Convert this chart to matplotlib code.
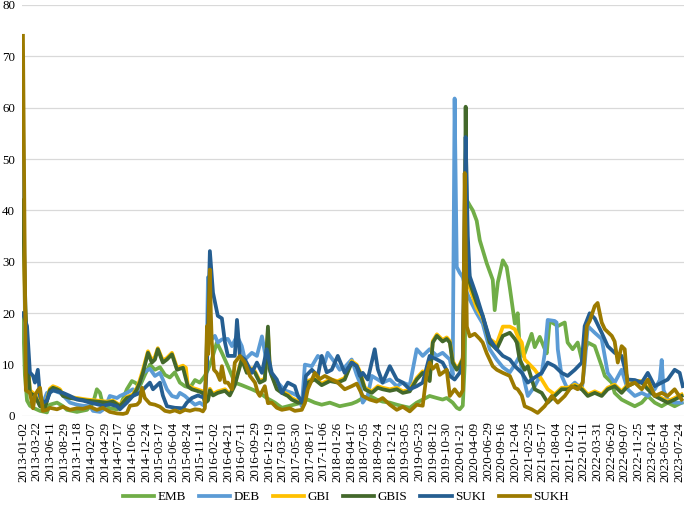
import matplotlib
matplotlib.use("Agg")
import matplotlib.pyplot as plt

plt.rcParams['font.family'] = ['Liberation Serif', 'DejaVu Serif']

# business-day index (0 = 2013-01-02) and value
emb_day = [0, 8, 17, 29, 42, 71, 100, 112, 142, 167, 183, 225, 267, 292, 308, 321, 333, 362, 392, 404,
           433, 454, 467, 487, 508, 529, 550, 571, 592, 612, 633, 654, 675, 696, 717, 737, 758, 771, 787, 808,
           829, 854, 883, 912, 954, 987, 1016, 1050, 1079, 1112, 1154, 1187, 1216, 1245, 1279, 1320, 1370, 1391, 1416, 1445,
           1474, 1499, 1529, 1558, 1583, 1612, 1641, 1666, 1695, 1725, 1749, 1766, 1791, 1808, 1820, 1833, 1841, 1850, 1862, 1875,
           1891, 1904, 1933, 1958, 1966, 1979, 2000, 2016, 2029, 2050, 2062, 2070, 2083, 2091, 2120, 2133, 2154, 2175, 2183, 2195,
           2229, 2258, 2270, 2291, 2312, 2329, 2354, 2383, 2412, 2425, 2454, 2466, 2495, 2520, 2550, 2579, 2604, 2633, 2662, 2687,
           2716, 2745]
emb_val = [20, 8, 3, 2, 1.6, 1.0, 0.7, 2.2, 2.6, 1.9, 1.2, 0.8, 1.2, 2.5, 5.2, 4.5, 2.2, 1.5, 1.3, 1.8,
           5.2, 6.8, 6.5, 5.8, 8, 10, 9, 9.5, 8, 7.5, 8.5, 6.5, 5.8, 5.5, 7, 6.5, 7.8, 9, 11, 14.3,
           12.3, 9.7, 6.5, 6, 5.2, 4.5, 3.5, 2.6, 1.6, 2, 2.5, 3.2, 2.6, 2.2, 2.6, 1.9, 2.4, 2.8, 3.5, 3.9,
           3.2, 2.8, 2.6, 2.2, 1.9, 1.6, 2.6, 3.2, 3.9, 3.5, 3.2, 3.5, 2.6, 1.6, 1.3, 2, 10, 42, 41, 40,
           38, 34.2, 29.7, 26.5, 20.6, 26, 30.3, 29, 25, 18, 20, 13.4, 11.7, 12.2, 16, 13.4, 15.4, 13, 12.2, 18.5,
           17.5, 18.2, 14.3, 13, 14.3, 11, 14.3, 13.6, 9.7, 7.8, 6.5, 4.5, 3.2, 2.6, 1.9, 2.6, 3.9, 2.6, 1.9, 2.6,
           1.9, 2.6]

deb_day = [0, 8, 17, 29, 50, 71, 83, 100, 125, 154, 167, 196, 225, 250, 279, 292, 321, 333, 350, 362,
           392, 404, 433, 458, 475, 500, 529, 550, 571, 583, 600, 621, 642, 654, 675, 696, 717, 737, 758, 767,
           771, 775, 787, 800, 812, 829, 854, 871, 892, 912, 925, 954, 975, 996, 1016, 1037, 1062, 1091, 1120, 1146,
           1162, 1175, 1204, 1229, 1258, 1270, 1300, 1320, 1341, 1370, 1391, 1404, 1416, 1437, 1454, 1479, 1499, 1529, 1558, 1583,
           1612, 1641, 1666, 1695, 1725, 1749, 1779, 1791, 1799, 1808, 1820, 1833, 1850, 1862, 1891, 1916, 1945, 1974, 2000, 2029,
           2050, 2070, 2079, 2104, 2133, 2162, 2174, 2187, 2216, 2224, 2229, 2245, 2270, 2300, 2329, 2341, 2354, 2383, 2412, 2437,
           2466, 2495, 2520, 2550, 2579, 2604, 2633, 2654, 2662, 2670, 2687, 2716, 2745]
deb_val = [59, 20, 6, 4.5, 4, 3, 2.5, 4.5, 5, 4.5, 4, 2.6, 2.2, 2, 1.9, 1.0, 0.8, 1.2, 2.5, 3.9,
           3.5, 3.9, 4.5, 5.2, 4.5, 8.4, 9.2, 7.8, 8.4, 7.1, 5.2, 3.9, 3.6, 4.5, 3.9, 3, 2.2, 2.6, 1.9, 15,
           27, 18, 15, 15.6, 14.3, 14.9, 15, 13.6, 15.6, 13.6, 11, 12.3, 11.7, 15.5, 10.4, 7.8, 6.5, 5, 4.5, 3.9,
           1.9, 10, 9.7, 11.7, 10.4, 12.3, 10.4, 9, 9.5, 11, 8, 6.5, 2.6, 4, 7.8, 7.1, 6.5, 7.1, 5.8, 6.5,
           6, 13, 11.7, 13, 11.7, 12.3, 11, 8, 61.8, 29, 27.9, 27, 24, 22.7, 20, 18, 13, 11, 9.5, 8.5,
           10, 11.7, 9, 3.9, 5.8, 8.4, 12, 18.7, 18.5, 18.2, 13, 7.8, 5.2, 6.5, 5.2, 10, 17.5, 16.2, 15, 8.4,
           6.5, 9, 5.2, 3.9, 4.5, 3.9, 5.2, 7, 10.9, 5, 3.2, 2.6, 2.6]

gbis_day = [0, 8, 17, 29, 50, 71, 92, 112, 125, 142, 154, 167, 196, 237, 267, 308, 350, 375, 404, 433,
            458, 475, 487, 500, 521, 537, 550, 562, 583, 600, 621, 642, 654, 667, 687, 704, 725, 750, 758, 771,
            779, 792, 812, 842, 862, 883, 912, 933, 954, 967, 987, 1008, 1021, 1029, 1037, 1058, 1079, 1104, 1120, 1146,
            1166, 1187, 1216, 1245, 1279, 1312, 1341, 1370, 1391, 1404, 1425, 1454, 1479, 1499, 1529, 1558, 1583, 1612, 1641, 1666,
            1695, 1708, 1725, 1749, 1766, 1779, 1791, 1808, 1820, 1833, 1841, 1845, 1850, 1862, 1891, 1916, 1945, 1974, 2000, 2029,
            2050, 2058, 2070, 2091, 2104, 2133, 2162, 2187, 2216, 2245, 2270, 2300, 2329, 2354, 2383, 2412, 2437, 2466, 2495, 2520,
            2550, 2579, 2604, 2633, 2662, 2687, 2716, 2745]
gbis_val = [42, 25, 12, 4.5, 3.9, 1.9, 1.5, 5, 5.5, 5.2, 4.9, 3.9, 3.5, 3.2, 3, 2.8, 2.6, 2.8, 1.9, 3.5,
            3.9, 5.2, 6.5, 8.4, 12.3, 10.4, 11, 13, 10.4, 11, 12, 9, 9.2, 9.4, 5.8, 5.2, 4.9, 4.5, 2.5, 3,
            5, 4, 4.5, 4.9, 4, 6, 11, 8.4, 9, 8.4, 6.5, 7, 17.4, 9, 7.8, 5.2, 4.5, 3.9, 3.2, 2.6,
            2.6, 6.5, 7.1, 6, 6.8, 6.5, 7.1, 10.4, 9.7, 8.4, 5.2, 4.5, 5.5, 5.2, 4.9, 5.2, 4.5, 4.8, 7.1, 8.4,
            6.8, 14.3, 15.6, 14.5, 15, 14.3, 10.4, 9, 9.7, 11, 30, 60.2, 35, 26, 22, 19.5, 14.3, 13, 15.6, 16.2,
            15, 14.3, 11, 9, 9.7, 5.2, 4.5, 2.6, 3.9, 5.2, 5.2, 5.8, 5.2, 3.9, 4.5, 3.9, 5.2, 5.8, 4.5, 5.8,
            6.5, 6.5, 5.2, 3.9, 3.2, 2.6, 3.2, 3.9]

gbi_day = [0, 8, 17, 29, 50, 71, 92, 112, 125, 142, 154, 167, 196, 237, 267, 308, 350, 375, 404, 433,
           458, 475, 487, 500, 521, 537, 550, 562, 583, 600, 621, 642, 654, 667, 679, 687, 704, 725, 750, 758,
           771, 779, 792, 812, 842, 862, 883, 912, 933, 954, 967, 987, 1008, 1021, 1029, 1037, 1058, 1079, 1104, 1120,
           1146, 1166, 1187, 1216, 1245, 1279, 1312, 1341, 1370, 1391, 1404, 1425, 1454, 1479, 1499, 1529, 1558, 1583, 1612, 1641,
           1666, 1695, 1708, 1725, 1749, 1766, 1779, 1791, 1808, 1820, 1833, 1841, 1845, 1850, 1862, 1891, 1916, 1945, 1974, 2000,
           2029, 2050, 2062, 2079, 2091, 2104, 2133, 2162, 2187, 2216, 2245, 2270, 2300, 2329, 2354, 2383, 2412, 2437, 2466, 2495,
           2520, 2550, 2579, 2604, 2633, 2662, 2687, 2716, 2745]
gbi_val = [40, 22, 13, 5, 4.2, 2.2, 1.8, 5.3, 5.8, 5.5, 5.2, 4.2, 3.7, 3.4, 3.2, 3, 2.8, 3, 2.1, 3.7,
           4.2, 5.5, 7, 9, 12.6, 10.8, 11.5, 13.2, 10.8, 11.3, 12.3, 9.4, 9.6, 9.8, 9.4, 6, 5.5, 5.2, 4.8, 2.8,
           3.3, 5.3, 4.3, 4.8, 5.2, 4.3, 6.3, 11.3, 8.7, 9.3, 8.7, 6.8, 7.3, 16.5, 9.3, 8.1, 5.5, 4.8, 4.2, 3.5,
           2.9, 2.9, 6.8, 7.4, 6.3, 7.1, 6.8, 7.4, 10.7, 10, 8.7, 5.5, 4.8, 5.8, 5.5, 5.2, 5.5, 4.8, 5.1, 7.4,
           8.7, 7.1, 14.6, 15.9, 14.8, 15.3, 14.6, 10.7, 9.3, 10, 11.3, 28, 50, 33, 25, 21, 19, 15, 14, 17.4,
           17.4, 16.9, 15.5, 14.3, 11, 10.4, 9, 7.1, 5.2, 4.2, 5.5, 5.5, 6.1, 5.5, 4.2, 4.8, 4.2, 5.5, 6.1, 4.8,
           6.1, 6.8, 6.8, 5.5, 4.2, 3.5, 2.9, 3.5, 4.2]

suki_day = [0, 17, 29, 42, 50, 62, 71, 83, 100, 112, 125, 142, 167, 196, 225, 250, 279, 308, 333, 362,
            392, 404, 433, 458, 487, 508, 529, 542, 571, 583, 600, 633, 667, 683, 704, 729, 758, 767, 779, 792,
            812, 829, 842, 854, 883, 892, 904, 925, 954, 975, 996, 1016, 1037, 1058, 1079, 1104, 1133, 1146, 1166, 1179,
            1204, 1229, 1245, 1266, 1287, 1312, 1341, 1370, 1391, 1404, 1416, 1437, 1466, 1479, 1499, 1529, 1558, 1583, 1612, 1641,
            1666, 1695, 1725, 1749, 1779, 1799, 1820, 1833, 1845, 1854, 1862, 1891, 1916, 1945, 1974, 2000, 2029, 2050, 2079, 2104,
            2133, 2162, 2187, 2216, 2245, 2270, 2300, 2329, 2341, 2362, 2383, 2412, 2437, 2466, 2495, 2520, 2550, 2579, 2604, 2633,
            2662, 2687, 2716, 2737, 2750]
suki_val = [20, 17.5, 8.5, 7.8, 6.5, 9, 3.9, 2.6, 3, 4.5, 5, 4.8, 4.5, 3.9, 3.2, 3, 2.6, 2.3, 2.0, 2.3,
            1.9, 1.3, 2.6, 3.9, 4.5, 5.5, 6.5, 5.2, 6.5, 4, 1.9, 1.6, 1.5, 2.6, 3.5, 4, 3.5, 10, 32.1, 24,
            19.5, 19, 14.3, 11.7, 11.7, 18.7, 11.7, 11, 8.4, 10.4, 8.4, 13, 8.4, 7.1, 4.5, 6.5, 5.8, 3.9, 2.6, 7.8,
            9, 7.8, 11.7, 8.5, 9, 11.7, 8.4, 10.4, 9.7, 7.8, 8.4, 7.1, 13, 9.1, 6.5, 9.7, 7.1, 6.5, 5.2, 5.8,
            6.5, 11.7, 11, 10.4, 7.8, 7.1, 8.4, 10, 54.3, 35, 27.2, 23.3, 19.5, 15, 13, 11.7, 11, 9.7, 8.4, 6.5,
            7.5, 8.4, 10.4, 9.7, 8.4, 7.8, 9, 10.4, 17.5, 20, 19, 16.2, 13.6, 12.3, 11.7, 7.1, 7, 6.5, 8.4, 5.8,
            6.5, 7.1, 9, 8.4, 5.8]

sukh_day = [0, 12, 29, 42, 50, 62, 71, 83, 100, 112, 142, 167, 196, 225, 250, 279, 308, 333, 362, 392,
            417, 433, 446, 475, 487, 496, 508, 529, 550, 571, 592, 612, 633, 654, 675, 696, 717, 737, 750, 758,
            762, 767, 771, 775, 779, 783, 787, 796, 808, 821, 829, 842, 854, 871, 883, 904, 925, 946, 967, 979,
            987, 1008, 1021, 1037, 1058, 1079, 1112, 1133, 1162, 1175, 1187, 1204, 1216, 1237, 1258, 1287, 1312, 1341, 1370, 1391,
            1416, 1445, 1474, 1499, 1529, 1558, 1583, 1612, 1641, 1666, 1683, 1695, 1708, 1725, 1737, 1766, 1779, 1799, 1820, 1833,
            1841, 1850, 1862, 1883, 1904, 1916, 1933, 1945, 1958, 1975, 2000, 2029, 2050, 2062, 2079, 2091, 2120, 2145, 2174, 2204,
            2229, 2258, 2287, 2312, 2333, 2350, 2362, 2383, 2395, 2412, 2425, 2454, 2466, 2479, 2495, 2508, 2520, 2550, 2579, 2604,
            2633, 2662, 2687, 2716, 2745]
sukh_val = [74, 5, 4.5, 1.5, 4, 5, 5.5, 1, 1.2, 1.6, 1.3, 1.8, 1.2, 1.5, 1.4, 1.8, 1.2, 1.6, 0.8, 0.5,
            0.4, 0.6, 2.0, 2.2, 2.8, 5.5, 3.5, 2.4, 2.2, 1.8, 1.0, 0.8, 1.1, 0.7, 1.2, 1.0, 1.3, 1.2, 0.9, 1.5,
            8, 17.5, 12, 22, 28.5, 20, 14.3, 9, 8.4, 7, 9.7, 6.5, 6.5, 5.2, 10.4, 11.7, 10.4, 7.8, 6.5, 4.5,
            3.9, 5.8, 2.5, 2.6, 1.6, 1.2, 1.5, 1.0, 1.2, 2.5, 5.2, 7, 8.4, 7.2, 7.8, 7.1, 6.5, 5.2, 5.8, 6.3,
            3.9, 3.2, 2.8, 3.5, 2.2, 1.2, 1.8, 0.9, 2.2, 2.0, 8.4, 10.4, 9.2, 10.0, 8, 9, 3.9, 5.2, 3.9, 5,
            47.3, 17.4, 15.5, 16, 15, 14.3, 12.2, 11, 9.7, 9, 8.4, 7.8, 5.5, 5.2, 4, 1.9, 1.3, 0.6, 1.9, 3.9,
            2.6, 3.9, 5.8, 5.2, 6.5, 17.5, 18.5, 21.4, 22, 18.2, 16.9, 15.6, 14.5, 10.4, 13.6, 13, 5.8, 6.5, 5.2, 7.1,
            3.9, 4.5, 3.9, 5.2, 3.2]

series = ['EMB', 'DEB', 'GBI', 'GBIS', 'SUKI', 'SUKH']
colors = ['#70AD47', '#5B9BD5', '#FFC000', '#43682B', '#255E91', '#9C7A00']

tick_labels = [
    '2013-01-02', '2013-03-22', '2013-06-11', '2013-08-29', '2013-11-18', '2014-02-07', '2014-04-29',
    '2014-07-17', '2014-10-06', '2014-12-24', '2015-03-17', '2015-06-04', '2015-08-24', '2015-11-11',
    '2016-02-02', '2016-04-21', '2016-07-11', '2016-09-29', '2016-12-19', '2017-03-10', '2017-05-30',
    '2017-08-17', '2017-11-06', '2018-01-26', '2018-04-17', '2018-07-05', '2018-09-24', '2018-12-12',
    '2019-03-05', '2019-05-23', '2019-08-12', '2019-10-30', '2020-01-21', '2020-04-09', '2020-06-29',
    '2020-09-16', '2020-12-04', '2021-02-25', '2021-05-17', '2021-08-04', '2021-10-22', '2022-01-11',
    '2022-03-31', '2022-06-20', '2022-09-07', '2022-11-25', '2023-02-14', '2023-05-04', '2023-07-24',
]
tick_step = 57  # business days between labels

days = [emb_day, deb_day, gbi_day, gbis_day, suki_day, sukh_day]
vals = [emb_val, deb_val, gbi_val, gbis_val, suki_val, sukh_val]

fig = plt.figure(figsize=(6.85, 5.07), dpi=100)
ax = fig.add_axes([22 / 685, 1 - 416 / 507, 662 / 685, 411 / 507])

for name, c, d, v in zip(series, colors, days, vals):
    ax.plot(d, v, color=c, lw=2.7, label=name, solid_joinstyle='round')

ax.set_ylim(0, 80)
ax.set_yticks(range(0, 81, 10))
ax.set_xlim(-4, 2755)
ax.set_xticks([i * tick_step for i in range(len(tick_labels))])
ax.set_xticklabels(tick_labels, rotation=90)
ax.tick_params(axis='both', length=0, labelsize=9.3, colors='#000000')
ax.tick_params(axis='x', pad=4)
ax.tick_params(axis='y', pad=5)

ax.grid(True, axis='y', color='#D9D9D9', lw=0.9)
ax.set_axisbelow(True)
for s in ax.spines.values():
    s.set_visible(False)

fig.legend(loc='center', bbox_to_anchor=(0.505, 1 - 497 / 507), ncol=6, frameon=False,
           fontsize=9.4, handlelength=2.4, handletextpad=0.25, columnspacing=1.0)

fig.savefig('out.png', dpi=100)
